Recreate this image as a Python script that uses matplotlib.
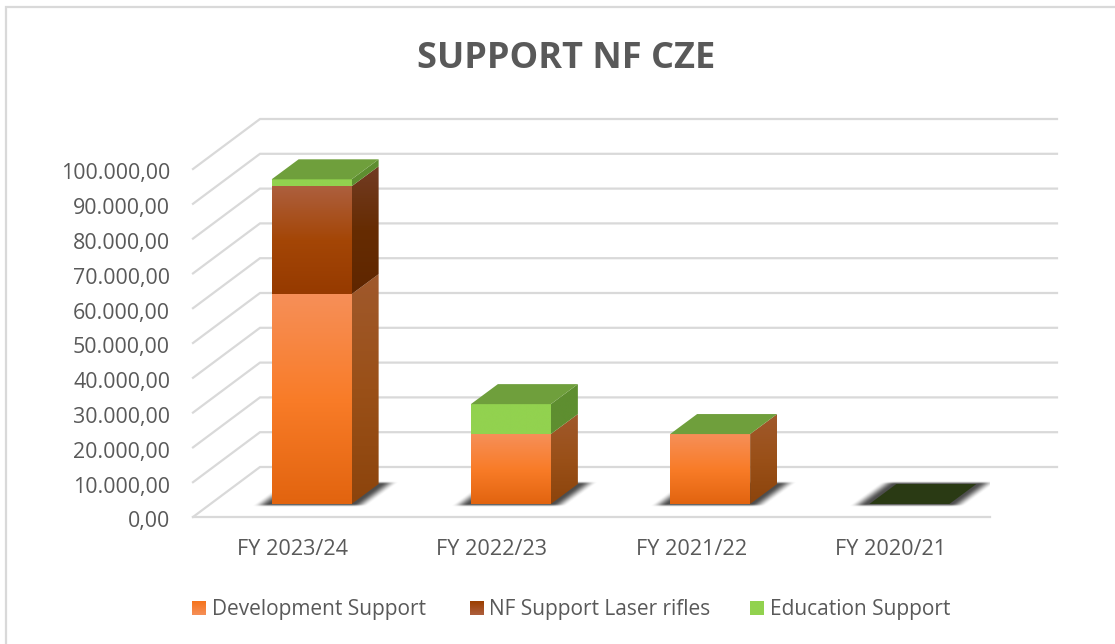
import matplotlib
matplotlib.use("Agg")
import matplotlib.pyplot as plt
import numpy as np
from matplotlib.colors import LinearSegmentedColormap
from matplotlib.patches import Polygon

plt.rcParams["font.family"] = ["Open Sans", "DejaVu Sans"]

categories = ["FY 2023/24", "FY 2022/23", "FY 2021/22", "FY 2020/21"]
development = [60300, 20100, 20100, 0]
laser_rifles = [31000, 0, 0, 0]
education = [2000, 8600, 0, 0]
y_ticks = list(range(0, 100001, 10000))
y_labels = ["0,00", "10.000,00", "20.000,00", "30.000,00", "40.000,00", "50.000,00",
            "60.000,00", "70.000,00", "80.000,00", "90.000,00", "100.000,00"]
legend_names = ["Development Support", "NF Support Laser rifles", "Education Support"]

W, H = 1115, 644
TEXT = "#595959"
GRID = "#d9d9d9"

# front plane of the fake 3D box, in pixels
LEFT, RIGHT, TOP, BOTTOM = 193, 990, 169, 517
PX_X = 4.0 / (RIGHT - LEFT)
PX_Y = 100000.0 / (BOTTOM - TOP)

fig = plt.figure(figsize=(W / 100, H / 100), dpi=100, facecolor="white")
ax = fig.add_axes([LEFT / W, 1 - BOTTOM / H, (RIGHT - LEFT) / W, (BOTTOM - TOP) / H])
ax.set_facecolor("none")
for spine in ax.spines.values():
    spine.set_visible(False)


def shift(dx, dy):
    return dx * PX_X, dy * PX_Y


def face(target, points, colors, z):
    """Gradient-filled polygon, colours run from top to bottom."""
    poly = Polygon(points, closed=True, facecolor="none", edgecolor="none", clip_on=False)
    target.add_patch(poly)
    xs = [p[0] for p in points]
    ys = [p[1] for p in points]
    cmap = LinearSegmentedColormap.from_list("f", colors)
    grad = np.linspace(0, 1, 128).reshape(-1, 1)
    im = target.imshow(grad, cmap=cmap, extent=(min(xs), max(xs), min(ys), max(ys)), origin="upper",
                       aspect="auto", zorder=z, interpolation="bilinear")
    im.set_clip_path(poly)
    im.set_clip_box(fig.bbox)


def ramp(t):
    t = np.clip(t, 0, 1)
    return t * t * (3 - 2 * t)


def shadow(x0, x1, base, z):
    """Soft parallelogram below a bar."""
    sx, sy = shift(27, 20)
    reach_x, reach_y = shift(20, 3)
    soft_x, soft_y = shift(16, 3)
    px = np.linspace(x0 - reach_x, x1 + sx + reach_x, 400)
    py = np.linspace(base - reach_y, base + sy + reach_y, 80)
    gx, gy = np.meshgrid(px, py)
    u = gx - (gy - base) * sx / sy
    a = ramp((u - (x0 - reach_x * 0.9)) / soft_x) * ramp(((x1 + reach_x * 0.9) - u) / soft_x)
    b = ramp((gy - (base - reach_y)) / soft_y) * ramp(((base + sy + reach_y) - gy) / soft_y)
    rgba = np.zeros(gx.shape + (4,))
    rgba[..., :3] = 0.15
    rgba[..., 3] = 0.82 * a * b
    ax.imshow(rgba, extent=(px[0], px[-1], py[0], py[-1]), origin="lower", aspect="auto",
              zorder=z, interpolation="bilinear")


# box gridlines: diagonal on the side wall, then along the back wall
wall_x, wall_y = shift(67, 50)
for tick in y_ticks:
    ax.plot([-0.5, -0.5 + wall_x, 3.5 + wall_x], [tick, tick + wall_y, tick + wall_y],
            color=GRID, linewidth=1.6, zorder=1, clip_on=False, solid_joinstyle="miter")
ax.plot([-0.5, 3.5], [0, 0], color=GRID, linewidth=1.6, zorder=1, clip_on=False)

series = [
    (development, ["#f68f58", "#f97c28", "#e2640f"], ["#a0592c", "#9a5018", "#8c440c"]),
    (laser_rifles, ["#ad5f3e", "#a44606", "#963a00"], ["#723c24", "#662c02", "#5f2600"]),
    (education, ["#92d24f", "#92d24f"], ["#5e8e30", "#5e8e30"]),
]
off_x, off_y = shift(19, 13)
depth_x, depth_y = shift(27, 20)
half = 40 * PX_X

for i, _ in enumerate(categories):
    x0, x1 = i - half + off_x, i + half + off_x
    shadow(x0, x1, off_y, 3)
    bottom = off_y
    for values, front, side in series:
        v = values[i]
        if v <= 0:
            continue
        top = bottom + v
        face(ax, [(x1, bottom), (x1 + depth_x, bottom + depth_y), (x1 + depth_x, top + depth_y), (x1, top)], side, 4)
        face(ax, [(x0, bottom), (x1, bottom), (x1, top), (x0, top)], front, 5)
        bottom = top
    lid = "#6f9f3c" if bottom > off_y else "#2a3a14"
    ax.add_patch(Polygon([(x0, bottom), (x1, bottom), (x1 + depth_x, bottom + depth_y), (x0 + depth_x, bottom + depth_y)],
                         closed=True, facecolor=lid, edgecolor="none", zorder=6, clip_on=False))

ax.set_xlim(-0.5, 3.5)
ax.set_ylim(0, 100000)
ax.set_yticks(y_ticks, [""] * len(y_ticks))
ax.set_xticks(range(len(categories)), categories)
ax.tick_params(axis="both", length=0, colors=TEXT)
ax.tick_params(axis="x", labelsize=15.6, pad=16)
# labels sit a little below their gridline ends
for tick, label in zip(y_ticks, y_labels):
    ax.annotate(label, xy=(-0.5, tick), xytext=(-23, -5), textcoords="offset pixels", ha="right", va="center",
                fontsize=15.4, color=TEXT, annotation_clip=False)

fig.text(566 / W, 1 - 59 / H, "SUPPORT NF CZE", ha="center", va="center", fontsize=26,
         fontweight="bold", color=TEXT)

# overlay in pixel units for the frame and the legend
over = fig.add_axes([0, 0, 1, 1], facecolor="none")
over.axis("off")
over.plot([6, 6, 1115], [644, 7, 7], color=GRID, linewidth=1.6, solid_joinstyle="miter")

legend_cols = [("#f68f58", "#f5741c"), ("#ad5f3e", "#9c3f00"), ("#92d24f", "#92d24f")]
swatch_left = [192, 470, 750]
text_left = [212, 489, 770]
for name, cols, sx, tx in zip(legend_names, legend_cols, swatch_left, text_left):
    face(over, [(sx, 601), (sx + 14, 601), (sx + 14, 615), (sx, 615)], cols, 2)
    over.text(tx, 610, name, ha="left", va="center", fontsize=15, color=TEXT)
over.set_xlim(0, W)
over.set_ylim(H, 0)

fig.savefig("out.png", dpi=100)
